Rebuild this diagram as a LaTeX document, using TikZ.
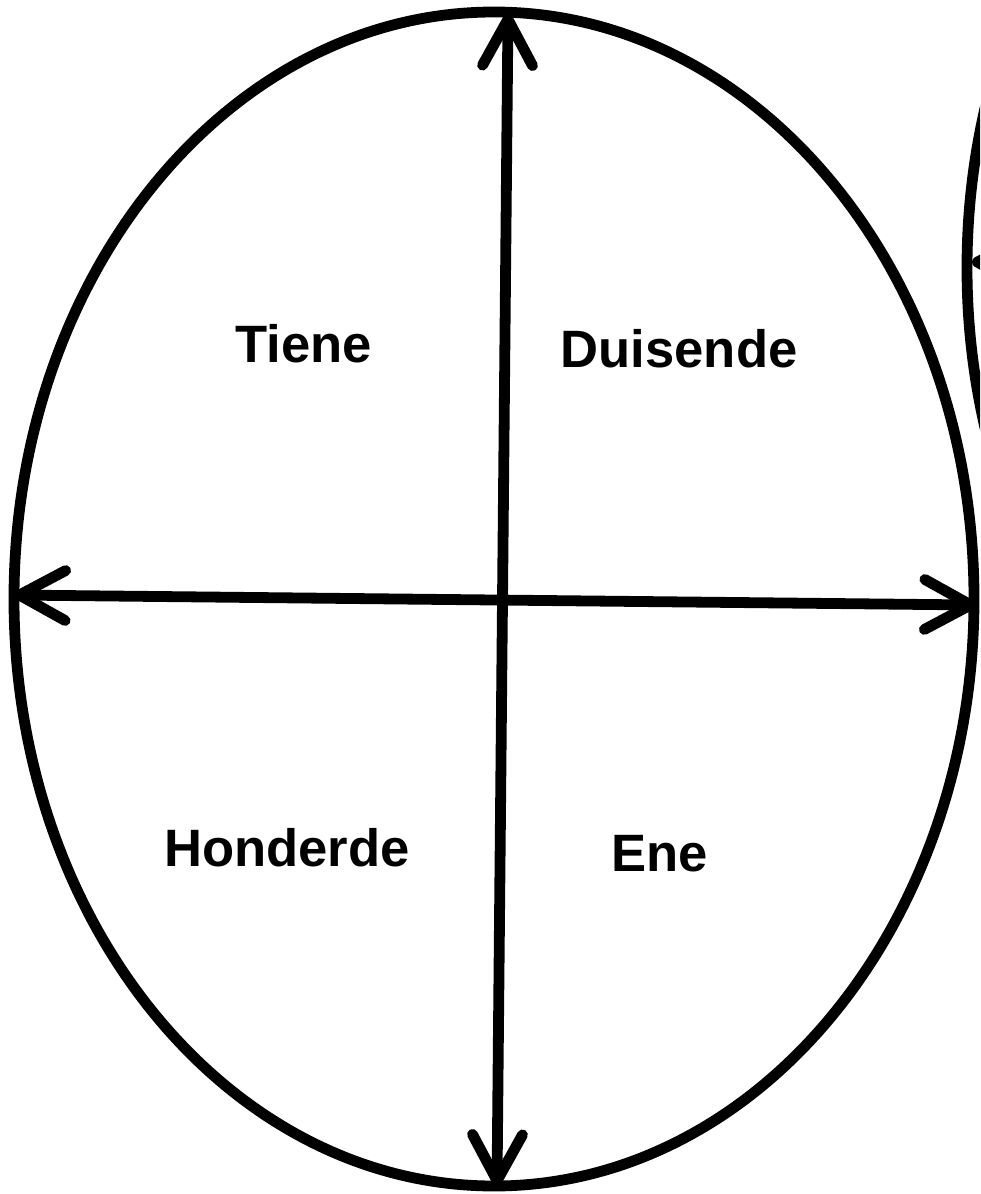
\documentclass[tikz,border=0pt]{standalone}
\usepackage{fontspec}
\setmainfont{Liberation Sans}
\usetikzlibrary{arrows.meta}

\tikzset{
  ring/.style={line width=5.4pt},
  axis/.style={line width=5.4pt, {Straight Barb[length=23pt, width=25pt, round]}-{Straight Barb[length=23pt, width=25pt, round]}},
  half/.style={line width=5.4pt, -{Straight Barb[length=23pt, width=25pt, round]}},
  place/.style={font=\bfseries\fontsize{26.3pt}{30pt}\selectfont, anchor=base, inner sep=0pt}
}

\begin{document}
\begin{tikzpicture}[x=0.5pt, y=-0.5pt]
    \useasboundingbox (0,0) rectangle (980,1194);
    \clip (0,0) rectangle (980,1194);

    % main ellipse
    \draw[ring] (494,599) ellipse [x radius=480, y radius=587];
    % neighbouring ellipse, cut off at the right
    \draw[ring] (1447,268) ellipse [x radius=480, y radius=587];
    \coordinate (nbmid) at (1447,268);
    \coordinate (nbleft) at (972,262);
    \draw[half] (nbmid) -- (nbleft);

    % axes
    \coordinate (top) at (508,14);
    \coordinate (bottom) at (497,1186);
    \coordinate (left) at (14,595);
    \coordinate (right) at (976,605);
    \draw[axis] (bottom) -- (top);
    \draw[axis] (left) -- (right);

    % place values
    \node[place] (tiene) at (304,362) {Tiene};
    \node[place] (duisende) at (679,367) {Duisende};
    \node[place] (honderde) at (287,866) {Honderde};
    \node[place] (ene) at (660,871) {Ene};
\end{tikzpicture}
\end{document}
